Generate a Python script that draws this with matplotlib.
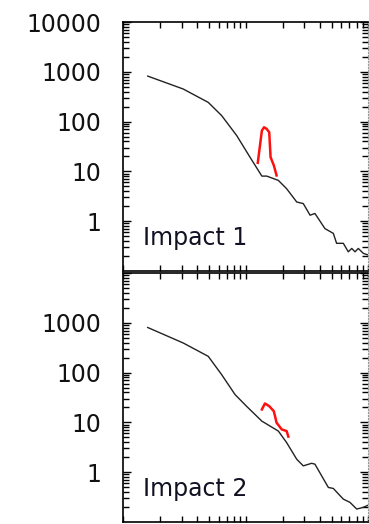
import matplotlib
matplotlib.use("Agg")
import matplotlib.pyplot as plt
from matplotlib.ticker import LogLocator, FixedLocator, FixedFormatter, NullFormatter

# Impact 1
x1 = [1.58, 3.08, 4.93, 6.34, 8.41, 10.8, 13.5, 14.8, 18.4, 21.5, 26.0, 29.4, 33.4, 36.6,
      44.2, 51.7, 55.0, 62.4, 68.5, 73.1, 77.8, 82.7, 90.9, 100]
y1 = [820, 451, 243, 132, 52.5, 19.3, 8.05, 8.05, 6.6, 4.5, 2.43, 2.26, 1.32, 1.43,
      0.71, 0.57, 0.36, 0.36, 0.243, 0.284, 0.243, 0.284, 0.226, 0.209]
rx1 = [12.5, 13.5, 14.06, 14.8, 15.5, 15.9, 16.9, 17.8]
ry1 = [14.9, 66, 77, 71, 61, 19.3, 13.2, 8.3]

# Impact 2
x2 = [1.58, 3.08, 4.93, 6.34, 8.15, 10.1, 13.5, 18.4, 21.5, 26.0, 29.4, 34.4, 36.6,
      47.1, 51.7, 62.4, 70.7, 80.3, 90.9, 100]
y2 = [805, 393, 212, 91, 36.3, 21.2, 10.6, 6.7, 3.93, 1.82, 1.34, 1.51, 1.45,
      0.494, 0.472, 0.288, 0.248, 0.182, 0.197, 0.219]
rx2 = [13.5, 14.3, 15.5, 16.9, 17.8, 19.6, 21.5, 22.2]
ry2 = [18.2, 24, 21.2, 16.8, 9.86, 7.24, 6.7, 5.18]

ytick_vals = [1, 10, 100, 1000, 10000]
ylabels1 = ["1", "10", "100", "1000", "10000"]
ylabels2 = ["1", "10", "100", "1000", ""]

fig = plt.figure(figsize=(3.69, 5.24), dpi=100)
ax1 = fig.add_axes([0.3344, 0.4828, 0.664, 0.4752])
ax2 = fig.add_axes([0.3344, 0.0038, 0.664, 0.4752])

panels = [(ax1, x1, y1, rx1, ry1, ylabels1, "Impact 1"),
          (ax2, x2, y2, rx2, ry2, ylabels2, "Impact 2")]

for ax, x, y, rx, ry, labs, name in panels:
    ax.plot(x, y, color="#222222", lw=1.0)
    ax.plot(rx, ry, color="#ff1010", lw=1.8)
    ax.set_xscale("log")
    ax.set_yscale("log")
    ax.set_xlim(1, 100)
    ax.set_ylim(0.1, 10000)

    ax.yaxis.set_major_locator(FixedLocator(ytick_vals))
    ax.yaxis.set_major_formatter(FixedFormatter(labs))
    ax.yaxis.set_minor_locator(LogLocator(base=10, subs=range(2, 10)))
    ax.yaxis.set_minor_formatter(NullFormatter())
    ax.xaxis.set_minor_locator(LogLocator(base=10, subs=range(2, 10)))
    ax.xaxis.set_major_formatter(NullFormatter())
    ax.xaxis.set_minor_formatter(NullFormatter())

    ax.tick_params(axis="y", which="both", direction="in", left=True, right=True,
                   labelsize=17, labelcolor="#111111", pad=16, width=1)
    ax.tick_params(axis="y", which="major", length=6)
    ax.tick_params(axis="y", which="minor", length=4)
    ax.tick_params(axis="x", which="both", direction="in", top=True, bottom=True,
                   length=4, width=1)

    for s in ["left", "top", "bottom"]:
        ax.spines[s].set_linewidth(1.2)
    ax.spines["right"].set_color("#999999")
    ax.spines["right"].set_linestyle(":")

    ax.text(0.08, 0.105, name, transform=ax.transAxes, fontsize=17,
            color="#111122", ha="left", va="baseline")

fig.savefig("out.png", dpi=100)
